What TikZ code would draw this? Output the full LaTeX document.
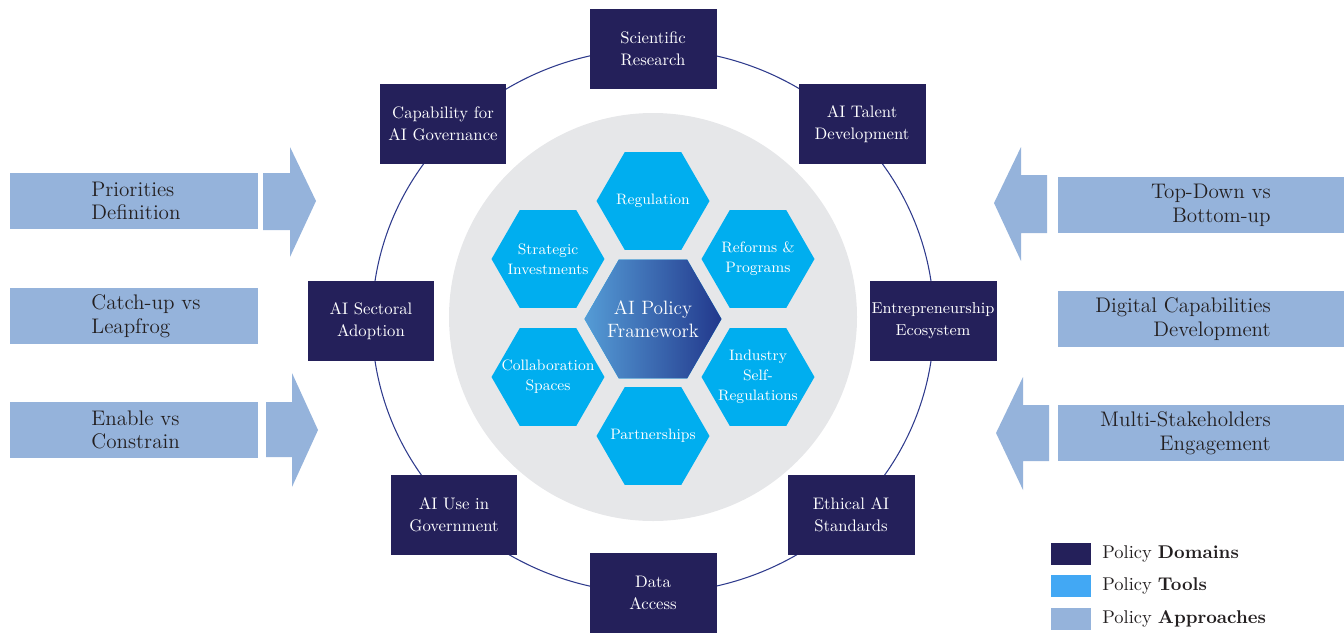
\documentclass[tikz,border=0pt]{standalone}
\usetikzlibrary{shapes.geometric}
\definecolor{navy}{HTML}{24205A}
\definecolor{toolblue}{HTML}{00AEEF}
\definecolor{keyblue}{HTML}{42A8F4}
\definecolor{apblue}{HTML}{95B3DB}
\definecolor{diskgray}{HTML}{E6E7E9}
\definecolor{ringblue}{HTML}{2E3A8C}
\definecolor{coreleft}{HTML}{559CD6}
\definecolor{coreright}{HTML}{22388C}
\definecolor{darktext}{HTML}{231F20}
\begin{document}
\begin{tikzpicture}[x=0.02cm,y=-0.02cm,
    pdomain/.style={fill=navy,text=white,minimum width=2.54cm,minimum height=1.6cm,inner sep=0pt,align=center,font=\fontsize{9.5}{12.5}\selectfont},
    ptool/.style={regular polygon,regular polygon sides=6,minimum size=2.26cm,inner sep=0pt,fill=toolblue},
    ptooltext/.style={text=white,align=center,font=\fontsize{8.6}{11.5}\selectfont},
    papproach/.style={fill=apblue,minimum height=1.12cm,inner sep=0pt},
    paptext/.style={text=darktext,inner sep=0pt,font=\fontsize{12}{13.5}\selectfont},
    pkey/.style={minimum width=0.8cm,minimum height=0.44cm,inner sep=0pt},
    pkeytext/.style={text=darktext,anchor=west,inner sep=0pt,font=\fontsize{10.5}{12}\selectfont}]
    \useasboundingbox (0,0) rectangle (1344,632);

    % disk and ring
    \fill [diskgray] (653,317) circle [radius=204];
    \draw [ringblue,line width=0.6pt] (653,321) ellipse [x radius=281,y radius=272];

    % tools
    \node [ptool,label={[ptooltext]center:Regulation}] (reg) at (653,201) {};
    \node [ptool,label={[ptooltext]center:Strategic\\Investments}] (inv) at (548,259) {};
    \node [ptool,label={[ptooltext]center:Reforms \&\\Programs}] (ref) at (758,259) {};
    \node [ptool,label={[ptooltext]center:Collaboration\\Spaces}] (col) at (548,377) {};
    \node [ptool,label={[ptooltext]center:Industry\\Self-\\Regulations}] (ind) at (758,377) {};
    \node [ptool,label={[ptooltext]center:Partnerships}] (par) at (653,436) {};
    \node [ptool,minimum size=2.74cm,left color=coreleft,right color=coreright,
        label={[ptooltext,font=\fontsize{11}{13}\selectfont]center:AI Policy\\Framework}] (core) at (653,319) {};

    % domains
    \node [pdomain] (sci) at (653,49) {Scientific\\Research};
    \node [pdomain] (gov) at (443,124) {Capability for\\AI Governance};
    \node [pdomain] (tal) at (862,124) {AI Talent\\Development};
    \node [pdomain] (sec) at (371,321) {AI Sectoral\\Adoption};
    \node [pdomain,font=\fontsize{9}{12.5}\selectfont] (ent) at (933,321) {Entrepreneurship\\Ecosystem};
    \node [pdomain] (use) at (454,515) {AI Use in\\Government};
    \node [pdomain] (eth) at (851,515) {Ethical AI\\Standards};
    \node [pdomain] (dat) at (653,593) {Data\\Access};

    % approaches, left side
    \node [papproach,minimum width=4.96cm] (pri) at (134,201) {};
    \node [paptext,anchor=west,align=left] (prit) at (91,201) {Priorities\\Definition};
    \node [papproach,minimum width=4.96cm] (cat) at (134,316) {};
    \node [paptext,anchor=west,align=left] (catt) at (91,316) {Catch-up vs\\Leapfrog};
    \node [papproach,minimum width=4.96cm] (ena) at (134,430) {};
    \node [paptext,anchor=west,align=left] (enat) at (91,430) {Enable vs\\Constrain};
    \fill [apblue] (263,173) -- (290,173) -- (290,147) -- (316,201) -- (290,257) -- (290,230) -- (263,230) -- cycle;
    \fill [apblue] (266,402) -- (292,402) -- (292,373) -- (318,430) -- (292,487) -- (292,457) -- (266,457) -- cycle;

    % approaches, right side
    \node [papproach,minimum width=5.72cm] (top) at (1201,205) {};
    \node [paptext,anchor=east,align=right] (topt) at (1271,205) {Top-Down vs\\Bottom-up};
    \node [papproach,minimum width=5.72cm] (dig) at (1201,319) {};
    \node [paptext,anchor=east,align=right] (digt) at (1271,319) {Digital Capabilities\\Development};
    \node [papproach,minimum width=5.72cm] (mul) at (1201,433) {};
    \node [paptext,anchor=east,align=right] (mult) at (1271,433) {Multi-Stakeholders\\Engagement};
    \fill [apblue] (1047,175) -- (1021,175) -- (1021,147) -- (994,203) -- (1021,261) -- (1021,233) -- (1047,233) -- cycle;
    \fill [apblue] (1049,405) -- (1023,405) -- (1023,377) -- (996,433) -- (1023,490) -- (1023,461) -- (1049,461) -- cycle;

    % legend
    \node [pkey,fill=navy] (kdom) at (1071,554) {};
    \node [pkeytext] (kdomt) at (1102,554) {Policy \textbf{Domains}};
    \node [pkey,fill=keyblue] (ktool) at (1071,586) {};
    \node [pkeytext] (ktoolt) at (1102,586) {Policy \textbf{Tools}};
    \node [pkey,fill=apblue] (kap) at (1071,619) {};
    \node [pkeytext] (kapt) at (1102,619) {Policy \textbf{Approaches}};
\end{tikzpicture}
\end{document}
